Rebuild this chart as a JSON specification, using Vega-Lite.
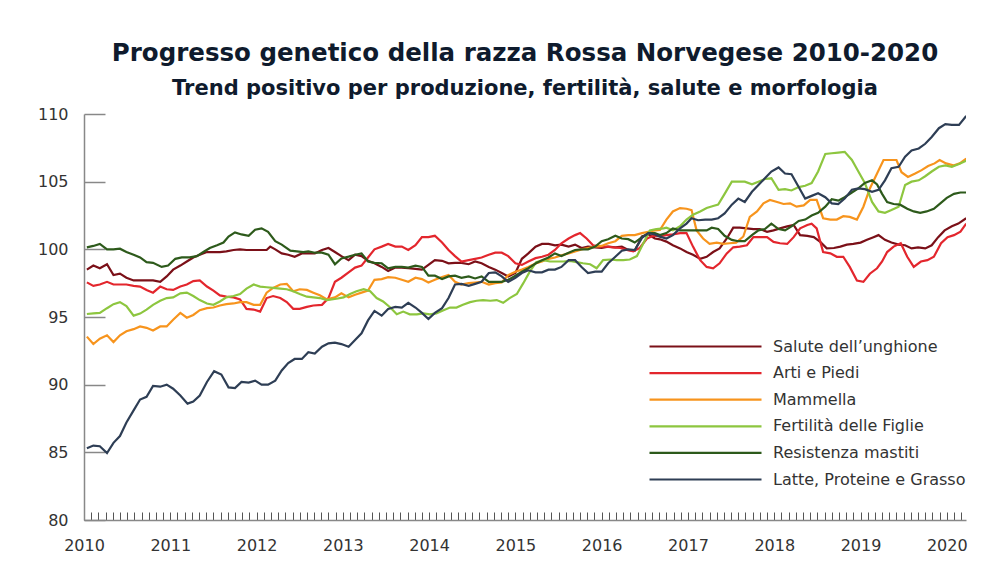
{
"$schema":"https://vega.github.io/schema/vega-lite/v6.json",
"width":882,"height":406,
"autosize":{"type":"none"},
"padding":{"left":84,"top":114,"right":38,"bottom":66},
"background":"white",
"config":{"view":{"stroke":null},"font":"DejaVu Sans"},
"title":{"text":"Progresso genetico della razza Rossa Norvegese 2010-2020","subtitle":"Trend positivo per produzione, fertilità, salute e morfologia","anchor":"middle","frame":"group","font":"DejaVu Sans","fontSize":24.5,"fontWeight":"bold","color":"#0f1b2d","subtitleFont":"DejaVu Sans","subtitleFontSize":21,"subtitleFontWeight":"bold","subtitleColor":"#0f1b2d","subtitlePadding":12,"offset":6},
"data":{"values":[
{"s":"A","m":0.4,"v":98.5},{"s":"A","m":1.3,"v":98.8},{"s":"A","m":2.2,"v":98.6},{"s":"A","m":3.2,"v":98.9},{"s":"A","m":4.1,"v":98.1},{"s":"A","m":5.0,"v":98.2},{"s":"A","m":5.9,"v":97.9},{"s":"A","m":6.9,"v":97.7},{"s":"A","m":7.8,"v":97.7},{"s":"A","m":8.7,"v":97.7},{"s":"A","m":9.6,"v":97.7},{"s":"A","m":10.6,"v":97.6},{"s":"A","m":11.5,"v":98.0},{"s":"A","m":12.4,"v":98.5},{"s":"A","m":13.4,"v":98.8},{"s":"A","m":14.3,"v":99.1},{"s":"A","m":15.2,"v":99.4},{"s":"A","m":16.1,"v":99.6},{"s":"A","m":17.1,"v":99.8},{"s":"A","m":18.0,"v":99.8},{"s":"A","m":18.9,"v":99.8},{"s":"A","m":19.8,"v":99.85},{"s":"A","m":20.8,"v":99.95},{"s":"A","m":21.7,"v":100.0},{"s":"A","m":22.6,"v":99.95},{"s":"A","m":23.6,"v":99.95},{"s":"A","m":24.5,"v":99.95},{"s":"A","m":25.4,"v":99.95},{"s":"A","m":25.9,"v":100.2},{"s":"A","m":26.6,"v":100.0},{"s":"A","m":27.5,"v":99.7},{"s":"A","m":28.4,"v":99.6},{"s":"A","m":29.3,"v":99.45},{"s":"A","m":30.3,"v":99.7},{"s":"A","m":31.2,"v":99.7},{"s":"A","m":32.1,"v":99.7},{"s":"A","m":33.1,"v":99.95},{"s":"A","m":34.0,"v":100.1},{"s":"A","m":34.9,"v":99.8},{"s":"A","m":35.8,"v":99.5},{"s":"A","m":36.8,"v":99.2},{"s":"A","m":37.7,"v":99.6},{"s":"A","m":38.6,"v":99.5},{"s":"A","m":39.5,"v":99.15},{"s":"A","m":40.4,"v":98.97},{"s":"A","m":41.4,"v":98.7},{"s":"A","m":42.3,"v":98.4},{"s":"A","m":43.3,"v":98.65},{"s":"A","m":44.2,"v":98.65},{"s":"A","m":45.1,"v":98.6},{"s":"A","m":46.1,"v":98.55},{"s":"A","m":47.0,"v":98.5},{"s":"A","m":47.9,"v":98.85},{"s":"A","m":48.8,"v":99.2},{"s":"A","m":49.8,"v":99.15},{"s":"A","m":50.7,"v":98.97},{"s":"A","m":51.6,"v":99.0},{"s":"A","m":52.5,"v":99.0},{"s":"A","m":53.5,"v":98.9},{"s":"A","m":54.4,"v":99.1},{"s":"A","m":55.3,"v":98.97},{"s":"A","m":56.3,"v":98.7},{"s":"A","m":57.2,"v":98.5},{"s":"A","m":58.1,"v":98.25},{"s":"A","m":59.0,"v":98.0},{"s":"A","m":60.0,"v":98.25},{"s":"A","m":60.9,"v":99.3},{"s":"A","m":61.8,"v":99.7},{"s":"A","m":62.8,"v":100.2},{"s":"A","m":63.7,"v":100.4},{"s":"A","m":64.6,"v":100.4},{"s":"A","m":65.5,"v":100.3},{"s":"A","m":66.4,"v":100.35},{"s":"A","m":67.4,"v":100.2},{"s":"A","m":68.3,"v":100.35},{"s":"A","m":69.2,"v":100.1},{"s":"A","m":70.1,"v":100.2},{"s":"A","m":71.1,"v":100.15},{"s":"A","m":72.0,"v":100.1},{"s":"A","m":72.9,"v":100.2},{"s":"A","m":73.9,"v":100.15},{"s":"A","m":74.8,"v":100.2},{"s":"A","m":75.7,"v":99.95},{"s":"A","m":76.6,"v":99.9},{"s":"A","m":77.6,"v":100.95},{"s":"A","m":78.5,"v":101.1},{"s":"A","m":79.4,"v":100.8},{"s":"A","m":80.1,"v":100.74},{"s":"A","m":81.0,"v":100.57},{"s":"A","m":81.9,"v":100.3},{"s":"A","m":82.9,"v":100.07},{"s":"A","m":83.8,"v":99.8},{"s":"A","m":84.7,"v":99.6},{"s":"A","m":85.7,"v":99.3},{"s":"A","m":86.6,"v":99.45},{"s":"A","m":87.5,"v":99.8},{"s":"A","m":88.4,"v":100.07},{"s":"A","m":89.4,"v":100.8},{"s":"A","m":90.3,"v":101.6},{"s":"A","m":91.2,"v":101.6},{"s":"A","m":92.2,"v":101.55},{"s":"A","m":93.1,"v":101.5},{"s":"A","m":94.0,"v":101.5},{"s":"A","m":95.0,"v":101.3},{"s":"A","m":95.9,"v":101.4},{"s":"A","m":96.8,"v":101.55},{"s":"A","m":97.8,"v":101.7},{"s":"A","m":98.7,"v":101.8},{"s":"A","m":99.6,"v":101.05},{"s":"A","m":100.6,"v":101.0},{"s":"A","m":101.5,"v":100.9},{"s":"A","m":102.4,"v":100.55},{"s":"A","m":103.3,"v":100.07},{"s":"A","m":104.3,"v":100.1},{"s":"A","m":105.2,"v":100.2},{"s":"A","m":106.1,"v":100.35},{"s":"A","m":107.0,"v":100.4},{"s":"A","m":108.0,"v":100.5},{"s":"A","m":108.9,"v":100.7},{"s":"A","m":109.8,"v":100.9},{"s":"A","m":110.5,"v":101.05},{"s":"A","m":111.4,"v":100.7},{"s":"A","m":112.3,"v":100.5},{"s":"A","m":113.3,"v":100.35},{"s":"A","m":114.2,"v":100.3},{"s":"A","m":115.1,"v":100.07},{"s":"A","m":116.0,"v":100.15},{"s":"A","m":117.0,"v":100.07},{"s":"A","m":117.9,"v":100.3},{"s":"A","m":118.8,"v":100.9},{"s":"A","m":119.7,"v":101.4},{"s":"A","m":120.7,"v":101.7},{"s":"A","m":121.6,"v":101.9},{"s":"A","m":122.7,"v":102.3},
{"s":"B","m":0.4,"v":97.56},{"s":"B","m":1.3,"v":97.3},{"s":"B","m":2.2,"v":97.4},{"s":"B","m":3.2,"v":97.6},{"s":"B","m":4.1,"v":97.4},{"s":"B","m":5.0,"v":97.4},{"s":"B","m":5.9,"v":97.4},{"s":"B","m":6.9,"v":97.3},{"s":"B","m":7.8,"v":97.25},{"s":"B","m":8.7,"v":97.0},{"s":"B","m":9.6,"v":96.8},{"s":"B","m":10.6,"v":97.25},{"s":"B","m":11.5,"v":97.05},{"s":"B","m":12.4,"v":97.0},{"s":"B","m":13.4,"v":97.25},{"s":"B","m":14.3,"v":97.4},{"s":"B","m":15.2,"v":97.65},{"s":"B","m":16.1,"v":97.7},{"s":"B","m":17.1,"v":97.25},{"s":"B","m":18.0,"v":96.95},{"s":"B","m":18.9,"v":96.6},{"s":"B","m":19.8,"v":96.5},{"s":"B","m":20.8,"v":96.45},{"s":"B","m":21.7,"v":96.3},{"s":"B","m":22.6,"v":95.6},{"s":"B","m":23.6,"v":95.55},{"s":"B","m":24.5,"v":95.4},{"s":"B","m":25.4,"v":96.4},{"s":"B","m":26.3,"v":96.55},{"s":"B","m":27.3,"v":96.4},{"s":"B","m":28.2,"v":96.1},{"s":"B","m":29.1,"v":95.6},{"s":"B","m":30.0,"v":95.6},{"s":"B","m":31.0,"v":95.75},{"s":"B","m":31.9,"v":95.85},{"s":"B","m":33.1,"v":95.9},{"s":"B","m":34.0,"v":96.4},{"s":"B","m":34.9,"v":97.6},{"s":"B","m":35.8,"v":97.9},{"s":"B","m":36.8,"v":98.3},{"s":"B","m":37.7,"v":98.65},{"s":"B","m":38.6,"v":98.8},{"s":"B","m":39.5,"v":99.4},{"s":"B","m":40.4,"v":100.0},{"s":"B","m":41.4,"v":100.2},{"s":"B","m":42.3,"v":100.4},{"s":"B","m":43.3,"v":100.2},{"s":"B","m":44.2,"v":100.2},{"s":"B","m":45.1,"v":99.95},{"s":"B","m":46.1,"v":100.3},{"s":"B","m":47.0,"v":100.9},{"s":"B","m":47.9,"v":100.9},{"s":"B","m":48.8,"v":101.0},{"s":"B","m":49.8,"v":100.5},{"s":"B","m":50.7,"v":99.95},{"s":"B","m":51.6,"v":99.5},{"s":"B","m":52.5,"v":99.1},{"s":"B","m":53.5,"v":99.2},{"s":"B","m":54.4,"v":99.3},{"s":"B","m":55.3,"v":99.4},{"s":"B","m":56.3,"v":99.6},{"s":"B","m":57.2,"v":99.75},{"s":"B","m":58.1,"v":99.75},{"s":"B","m":59.0,"v":99.5},{"s":"B","m":60.0,"v":98.97},{"s":"B","m":60.9,"v":98.85},{"s":"B","m":61.8,"v":99.1},{"s":"B","m":62.8,"v":99.35},{"s":"B","m":63.7,"v":99.45},{"s":"B","m":64.6,"v":99.6},{"s":"B","m":65.5,"v":99.95},{"s":"B","m":66.4,"v":100.45},{"s":"B","m":67.4,"v":100.8},{"s":"B","m":68.3,"v":101.05},{"s":"B","m":69.0,"v":101.2},{"s":"B","m":69.9,"v":100.8},{"s":"B","m":70.8,"v":100.3},{"s":"B","m":71.8,"v":100.2},{"s":"B","m":72.7,"v":100.2},{"s":"B","m":73.6,"v":100.15},{"s":"B","m":74.6,"v":100.1},{"s":"B","m":75.5,"v":99.95},{"s":"B","m":76.4,"v":99.85},{"s":"B","m":77.3,"v":100.1},{"s":"B","m":78.3,"v":100.8},{"s":"B","m":79.2,"v":101.0},{"s":"B","m":80.1,"v":100.98},{"s":"B","m":81.0,"v":101.05},{"s":"B","m":81.9,"v":101.1},{"s":"B","m":82.9,"v":101.2},{"s":"B","m":83.8,"v":101.2},{"s":"B","m":84.7,"v":100.2},{"s":"B","m":85.7,"v":99.2},{"s":"B","m":86.6,"v":98.7},{"s":"B","m":87.5,"v":98.6},{"s":"B","m":88.4,"v":98.97},{"s":"B","m":89.4,"v":99.7},{"s":"B","m":90.3,"v":100.15},{"s":"B","m":91.2,"v":100.2},{"s":"B","m":92.2,"v":100.3},{"s":"B","m":93.1,"v":100.9},{"s":"B","m":94.0,"v":100.9},{"s":"B","m":95.0,"v":100.9},{"s":"B","m":95.9,"v":100.55},{"s":"B","m":96.8,"v":100.45},{"s":"B","m":97.8,"v":100.4},{"s":"B","m":98.7,"v":100.9},{"s":"B","m":99.6,"v":101.55},{"s":"B","m":100.6,"v":101.8},{"s":"B","m":101.2,"v":101.9},{"s":"B","m":101.9,"v":101.55},{"s":"B","m":102.8,"v":99.8},{"s":"B","m":103.8,"v":99.7},{"s":"B","m":104.7,"v":99.45},{"s":"B","m":105.6,"v":99.45},{"s":"B","m":106.5,"v":98.7},{"s":"B","m":107.5,"v":97.7},{"s":"B","m":108.4,"v":97.6},{"s":"B","m":109.3,"v":98.2},{"s":"B","m":110.3,"v":98.6},{"s":"B","m":111.0,"v":99.1},{"s":"B","m":111.7,"v":99.8},{"s":"B","m":112.6,"v":100.2},{"s":"B","m":113.6,"v":100.45},{"s":"B","m":114.5,"v":99.45},{"s":"B","m":115.4,"v":98.7},{"s":"B","m":116.4,"v":99.1},{"s":"B","m":117.3,"v":99.2},{"s":"B","m":118.2,"v":99.45},{"s":"B","m":119.2,"v":100.45},{"s":"B","m":120.1,"v":100.9},{"s":"B","m":121.0,"v":101.05},{"s":"B","m":121.9,"v":101.3},{"s":"B","m":122.7,"v":101.9},
{"s":"C","m":0.4,"v":93.55},{"s":"C","m":1.3,"v":93.0},{"s":"C","m":2.2,"v":93.4},{"s":"C","m":3.2,"v":93.65},{"s":"C","m":4.1,"v":93.15},{"s":"C","m":5.0,"v":93.65},{"s":"C","m":5.9,"v":93.95},{"s":"C","m":6.9,"v":94.1},{"s":"C","m":7.8,"v":94.3},{"s":"C","m":8.7,"v":94.2},{"s":"C","m":9.6,"v":94.0},{"s":"C","m":10.6,"v":94.3},{"s":"C","m":11.5,"v":94.3},{"s":"C","m":12.4,"v":94.8},{"s":"C","m":13.4,"v":95.3},{"s":"C","m":14.3,"v":94.95},{"s":"C","m":15.2,"v":95.15},{"s":"C","m":16.1,"v":95.5},{"s":"C","m":17.1,"v":95.65},{"s":"C","m":18.0,"v":95.7},{"s":"C","m":18.9,"v":95.85},{"s":"C","m":19.8,"v":95.95},{"s":"C","m":20.8,"v":96.0},{"s":"C","m":21.7,"v":96.1},{"s":"C","m":22.6,"v":96.1},{"s":"C","m":23.6,"v":95.9},{"s":"C","m":24.5,"v":95.9},{"s":"C","m":25.4,"v":96.8},{"s":"C","m":26.3,"v":97.15},{"s":"C","m":27.3,"v":97.4},{"s":"C","m":28.2,"v":97.45},{"s":"C","m":29.1,"v":96.9},{"s":"C","m":30.0,"v":97.05},{"s":"C","m":31.0,"v":97.0},{"s":"C","m":31.9,"v":96.8},{"s":"C","m":32.8,"v":96.6},{"s":"C","m":33.8,"v":96.3},{"s":"C","m":34.9,"v":96.45},{"s":"C","m":35.8,"v":96.75},{"s":"C","m":36.8,"v":96.45},{"s":"C","m":37.7,"v":96.65},{"s":"C","m":38.6,"v":96.8},{"s":"C","m":39.5,"v":96.95},{"s":"C","m":40.4,"v":97.75},{"s":"C","m":41.4,"v":97.8},{"s":"C","m":42.3,"v":97.95},{"s":"C","m":43.3,"v":97.9},{"s":"C","m":44.2,"v":97.75},{"s":"C","m":45.1,"v":97.6},{"s":"C","m":46.1,"v":97.9},{"s":"C","m":47.0,"v":97.8},{"s":"C","m":47.9,"v":97.55},{"s":"C","m":48.8,"v":97.75},{"s":"C","m":49.8,"v":97.95},{"s":"C","m":50.7,"v":98.1},{"s":"C","m":51.6,"v":97.6},{"s":"C","m":52.5,"v":97.4},{"s":"C","m":53.5,"v":97.5},{"s":"C","m":54.4,"v":97.55},{"s":"C","m":55.3,"v":97.6},{"s":"C","m":56.3,"v":97.4},{"s":"C","m":57.2,"v":97.5},{"s":"C","m":58.1,"v":97.55},{"s":"C","m":59.0,"v":98.1},{"s":"C","m":60.0,"v":98.35},{"s":"C","m":60.9,"v":98.5},{"s":"C","m":61.8,"v":98.7},{"s":"C","m":62.8,"v":98.95},{"s":"C","m":63.7,"v":99.1},{"s":"C","m":64.6,"v":99.3},{"s":"C","m":65.5,"v":99.4},{"s":"C","m":66.4,"v":99.55},{"s":"C","m":67.4,"v":99.7},{"s":"C","m":68.3,"v":99.85},{"s":"C","m":69.2,"v":100.0},{"s":"C","m":70.1,"v":100.1},{"s":"C","m":71.1,"v":100.2},{"s":"C","m":72.0,"v":100.25},{"s":"C","m":72.9,"v":100.45},{"s":"C","m":73.9,"v":100.6},{"s":"C","m":74.8,"v":101.0},{"s":"C","m":75.7,"v":101.05},{"s":"C","m":76.6,"v":101.05},{"s":"C","m":77.6,"v":101.2},{"s":"C","m":78.5,"v":101.3},{"s":"C","m":79.4,"v":101.4},{"s":"C","m":80.1,"v":101.43},{"s":"C","m":81.0,"v":102.2},{"s":"C","m":81.9,"v":102.8},{"s":"C","m":82.9,"v":103.05},{"s":"C","m":83.8,"v":103.0},{"s":"C","m":84.5,"v":102.9},{"s":"C","m":85.2,"v":101.4},{"s":"C","m":86.1,"v":100.8},{"s":"C","m":87.0,"v":100.4},{"s":"C","m":88.0,"v":100.5},{"s":"C","m":88.9,"v":100.4},{"s":"C","m":89.8,"v":100.45},{"s":"C","m":90.7,"v":100.5},{"s":"C","m":91.7,"v":100.95},{"s":"C","m":92.6,"v":102.4},{"s":"C","m":93.6,"v":102.8},{"s":"C","m":94.5,"v":103.4},{"s":"C","m":95.4,"v":103.65},{"s":"C","m":96.4,"v":103.5},{"s":"C","m":97.3,"v":103.35},{"s":"C","m":98.2,"v":103.4},{"s":"C","m":99.1,"v":103.15},{"s":"C","m":100.1,"v":103.25},{"s":"C","m":101.0,"v":103.65},{"s":"C","m":101.9,"v":103.65},{"s":"C","m":102.8,"v":102.3},{"s":"C","m":103.8,"v":102.2},{"s":"C","m":104.7,"v":102.2},{"s":"C","m":105.6,"v":102.45},{"s":"C","m":106.5,"v":102.4},{"s":"C","m":107.5,"v":102.2},{"s":"C","m":108.4,"v":103.15},{"s":"C","m":109.3,"v":104.5},{"s":"C","m":110.3,"v":105.6},{"s":"C","m":111.2,"v":106.6},{"s":"C","m":112.1,"v":106.6},{"s":"C","m":113.0,"v":106.6},{"s":"C","m":113.7,"v":105.7},{"s":"C","m":114.6,"v":105.35},{"s":"C","m":115.6,"v":105.6},{"s":"C","m":116.5,"v":105.85},{"s":"C","m":117.4,"v":106.15},{"s":"C","m":118.3,"v":106.35},{"s":"C","m":119.0,"v":106.6},{"s":"C","m":119.9,"v":106.35},{"s":"C","m":120.9,"v":106.2},{"s":"C","m":121.8,"v":106.35},{"s":"C","m":122.7,"v":106.7},
{"s":"D","m":0.4,"v":95.22},{"s":"D","m":1.3,"v":95.27},{"s":"D","m":2.2,"v":95.3},{"s":"D","m":3.2,"v":95.65},{"s":"D","m":4.1,"v":95.95},{"s":"D","m":5.0,"v":96.1},{"s":"D","m":5.9,"v":95.8},{"s":"D","m":6.9,"v":95.1},{"s":"D","m":7.8,"v":95.25},{"s":"D","m":8.7,"v":95.55},{"s":"D","m":9.6,"v":95.9},{"s":"D","m":10.6,"v":96.2},{"s":"D","m":11.5,"v":96.4},{"s":"D","m":12.4,"v":96.45},{"s":"D","m":13.4,"v":96.75},{"s":"D","m":14.3,"v":96.8},{"s":"D","m":15.2,"v":96.55},{"s":"D","m":16.1,"v":96.25},{"s":"D","m":17.1,"v":96.0},{"s":"D","m":18.0,"v":95.9},{"s":"D","m":18.9,"v":96.15},{"s":"D","m":19.8,"v":96.45},{"s":"D","m":20.8,"v":96.55},{"s":"D","m":21.7,"v":96.7},{"s":"D","m":22.6,"v":97.1},{"s":"D","m":23.6,"v":97.4},{"s":"D","m":24.5,"v":97.25},{"s":"D","m":25.4,"v":97.2},{"s":"D","m":26.3,"v":97.15},{"s":"D","m":27.3,"v":97.1},{"s":"D","m":28.2,"v":97.05},{"s":"D","m":29.1,"v":96.9},{"s":"D","m":30.0,"v":96.7},{"s":"D","m":31.0,"v":96.5},{"s":"D","m":31.9,"v":96.45},{"s":"D","m":32.8,"v":96.4},{"s":"D","m":33.8,"v":96.25},{"s":"D","m":35.1,"v":96.35},{"s":"D","m":36.1,"v":96.45},{"s":"D","m":37.0,"v":96.7},{"s":"D","m":37.9,"v":96.9},{"s":"D","m":38.9,"v":97.05},{"s":"D","m":39.8,"v":96.9},{"s":"D","m":40.7,"v":96.4},{"s":"D","m":41.6,"v":96.15},{"s":"D","m":42.6,"v":95.7},{"s":"D","m":43.5,"v":95.2},{"s":"D","m":44.4,"v":95.4},{"s":"D","m":45.3,"v":95.2},{"s":"D","m":46.3,"v":95.2},{"s":"D","m":47.2,"v":95.27},{"s":"D","m":48.1,"v":95.2},{"s":"D","m":49.0,"v":95.27},{"s":"D","m":50.0,"v":95.5},{"s":"D","m":50.9,"v":95.7},{"s":"D","m":51.8,"v":95.7},{"s":"D","m":52.7,"v":95.9},{"s":"D","m":53.7,"v":96.1},{"s":"D","m":54.6,"v":96.2},{"s":"D","m":55.5,"v":96.25},{"s":"D","m":56.5,"v":96.2},{"s":"D","m":57.4,"v":96.25},{"s":"D","m":58.3,"v":96.05},{"s":"D","m":59.2,"v":96.4},{"s":"D","m":60.2,"v":96.7},{"s":"D","m":61.1,"v":97.5},{"s":"D","m":62.0,"v":98.35},{"s":"D","m":62.9,"v":99.05},{"s":"D","m":63.9,"v":99.2},{"s":"D","m":64.8,"v":99.1},{"s":"D","m":65.7,"v":99.1},{"s":"D","m":66.7,"v":99.1},{"s":"D","m":67.6,"v":99.15},{"s":"D","m":68.5,"v":99.05},{"s":"D","m":69.4,"v":98.97},{"s":"D","m":70.4,"v":98.9},{"s":"D","m":71.3,"v":98.6},{"s":"D","m":72.2,"v":99.2},{"s":"D","m":73.2,"v":99.25},{"s":"D","m":74.1,"v":99.2},{"s":"D","m":75.0,"v":99.2},{"s":"D","m":75.9,"v":99.25},{"s":"D","m":76.9,"v":99.5},{"s":"D","m":77.8,"v":100.45},{"s":"D","m":78.7,"v":101.4},{"s":"D","m":79.6,"v":101.5},{"s":"D","m":80.6,"v":101.55},{"s":"D","m":81.0,"v":101.6},{"s":"D","m":81.9,"v":101.4},{"s":"D","m":82.9,"v":101.7},{"s":"D","m":83.8,"v":102.2},{"s":"D","m":84.7,"v":102.55},{"s":"D","m":85.7,"v":102.8},{"s":"D","m":86.6,"v":103.05},{"s":"D","m":87.5,"v":103.2},{"s":"D","m":88.2,"v":103.3},{"s":"D","m":89.1,"v":104.1},{"s":"D","m":90.1,"v":105.0},{"s":"D","m":91.0,"v":105.0},{"s":"D","m":91.9,"v":105.0},{"s":"D","m":92.9,"v":104.8},{"s":"D","m":93.8,"v":105.0},{"s":"D","m":94.7,"v":105.2},{"s":"D","m":95.6,"v":105.25},{"s":"D","m":96.6,"v":104.4},{"s":"D","m":97.5,"v":104.45},{"s":"D","m":98.4,"v":104.35},{"s":"D","m":99.4,"v":104.6},{"s":"D","m":100.3,"v":104.7},{"s":"D","m":101.2,"v":104.9},{"s":"D","m":102.1,"v":105.75},{"s":"D","m":103.1,"v":107.05},{"s":"D","m":104.0,"v":107.1},{"s":"D","m":104.9,"v":107.15},{"s":"D","m":105.8,"v":107.2},{"s":"D","m":106.8,"v":106.6},{"s":"D","m":107.7,"v":105.75},{"s":"D","m":108.6,"v":104.9},{"s":"D","m":109.6,"v":103.5},{"s":"D","m":110.5,"v":102.8},{"s":"D","m":111.4,"v":102.7},{"s":"D","m":112.3,"v":102.9},{"s":"D","m":113.3,"v":103.15},{"s":"D","m":114.2,"v":104.75},{"s":"D","m":115.1,"v":105.0},{"s":"D","m":116.1,"v":105.1},{"s":"D","m":117.0,"v":105.4},{"s":"D","m":117.9,"v":105.75},{"s":"D","m":118.9,"v":106.1},{"s":"D","m":119.8,"v":106.2},{"s":"D","m":120.7,"v":106.1},{"s":"D","m":121.7,"v":106.3},{"s":"D","m":122.7,"v":106.55},
{"s":"E","m":0.4,"v":100.15},{"s":"E","m":1.3,"v":100.25},{"s":"E","m":2.2,"v":100.4},{"s":"E","m":3.2,"v":100.0},{"s":"E","m":4.1,"v":100.0},{"s":"E","m":5.0,"v":100.05},{"s":"E","m":5.9,"v":99.8},{"s":"E","m":6.9,"v":99.6},{"s":"E","m":7.8,"v":99.4},{"s":"E","m":8.7,"v":99.05},{"s":"E","m":9.6,"v":99.0},{"s":"E","m":10.8,"v":98.7},{"s":"E","m":11.7,"v":98.8},{"s":"E","m":12.7,"v":99.3},{"s":"E","m":13.6,"v":99.4},{"s":"E","m":14.7,"v":99.4},{"s":"E","m":15.7,"v":99.5},{"s":"E","m":16.6,"v":99.8},{"s":"E","m":17.5,"v":100.1},{"s":"E","m":18.5,"v":100.3},{"s":"E","m":19.4,"v":100.5},{"s":"E","m":20.1,"v":100.95},{"s":"E","m":21.0,"v":101.25},{"s":"E","m":21.9,"v":101.1},{"s":"E","m":22.9,"v":101.0},{"s":"E","m":23.8,"v":101.45},{"s":"E","m":24.7,"v":101.55},{"s":"E","m":25.6,"v":101.3},{"s":"E","m":26.6,"v":100.6},{"s":"E","m":27.5,"v":100.35},{"s":"E","m":28.7,"v":99.9},{"s":"E","m":29.6,"v":99.85},{"s":"E","m":30.5,"v":99.8},{"s":"E","m":31.2,"v":99.85},{"s":"E","m":32.1,"v":99.75},{"s":"E","m":33.1,"v":99.75},{"s":"E","m":34.0,"v":99.6},{"s":"E","m":34.9,"v":98.9},{"s":"E","m":35.8,"v":99.33},{"s":"E","m":36.8,"v":99.46},{"s":"E","m":37.7,"v":99.6},{"s":"E","m":38.6,"v":99.7},{"s":"E","m":39.5,"v":99.1},{"s":"E","m":40.4,"v":99.0},{"s":"E","m":41.4,"v":98.97},{"s":"E","m":42.3,"v":98.6},{"s":"E","m":43.3,"v":98.7},{"s":"E","m":44.2,"v":98.7},{"s":"E","m":45.1,"v":98.65},{"s":"E","m":46.1,"v":98.8},{"s":"E","m":47.0,"v":98.7},{"s":"E","m":47.9,"v":98.05},{"s":"E","m":48.8,"v":98.05},{"s":"E","m":49.8,"v":97.8},{"s":"E","m":50.7,"v":98.0},{"s":"E","m":51.6,"v":98.05},{"s":"E","m":52.5,"v":97.9},{"s":"E","m":53.5,"v":98.0},{"s":"E","m":54.4,"v":97.85},{"s":"E","m":55.3,"v":98.0},{"s":"E","m":56.3,"v":97.6},{"s":"E","m":57.2,"v":97.6},{"s":"E","m":58.1,"v":97.6},{"s":"E","m":59.0,"v":97.75},{"s":"E","m":60.0,"v":98.05},{"s":"E","m":60.9,"v":98.35},{"s":"E","m":61.8,"v":98.6},{"s":"E","m":62.8,"v":98.95},{"s":"E","m":63.7,"v":99.2},{"s":"E","m":64.6,"v":99.4},{"s":"E","m":65.5,"v":99.7},{"s":"E","m":66.4,"v":99.5},{"s":"E","m":67.4,"v":99.75},{"s":"E","m":68.3,"v":99.95},{"s":"E","m":69.2,"v":100.0},{"s":"E","m":70.1,"v":100.0},{"s":"E","m":71.1,"v":100.2},{"s":"E","m":72.0,"v":100.6},{"s":"E","m":72.9,"v":100.75},{"s":"E","m":73.9,"v":101.0},{"s":"E","m":74.8,"v":100.8},{"s":"E","m":75.7,"v":100.75},{"s":"E","m":76.6,"v":100.5},{"s":"E","m":77.6,"v":100.9},{"s":"E","m":78.5,"v":101.2},{"s":"E","m":79.4,"v":101.2},{"s":"E","m":80.1,"v":101.06},{"s":"E","m":81.0,"v":101.2},{"s":"E","m":81.9,"v":101.55},{"s":"E","m":82.9,"v":101.4},{"s":"E","m":83.8,"v":101.4},{"s":"E","m":84.7,"v":101.4},{"s":"E","m":85.7,"v":101.4},{"s":"E","m":86.6,"v":101.4},{"s":"E","m":87.3,"v":101.6},{"s":"E","m":88.2,"v":101.5},{"s":"E","m":89.1,"v":101.0},{"s":"E","m":90.1,"v":100.7},{"s":"E","m":91.0,"v":100.6},{"s":"E","m":91.9,"v":100.6},{"s":"E","m":92.9,"v":101.05},{"s":"E","m":93.8,"v":101.4},{"s":"E","m":94.7,"v":101.5},{"s":"E","m":95.6,"v":101.9},{"s":"E","m":96.6,"v":101.5},{"s":"E","m":97.5,"v":101.4},{"s":"E","m":98.4,"v":101.7},{"s":"E","m":99.4,"v":102.1},{"s":"E","m":100.3,"v":102.2},{"s":"E","m":101.2,"v":102.5},{"s":"E","m":102.1,"v":102.7},{"s":"E","m":103.1,"v":103.15},{"s":"E","m":104.0,"v":103.7},{"s":"E","m":104.9,"v":103.6},{"s":"E","m":105.8,"v":103.85},{"s":"E","m":106.8,"v":104.2},{"s":"E","m":107.7,"v":104.5},{"s":"E","m":108.6,"v":104.9},{"s":"E","m":109.6,"v":105.1},{"s":"E","m":110.3,"v":104.8},{"s":"E","m":111.0,"v":104.1},{"s":"E","m":111.7,"v":103.5},{"s":"E","m":112.6,"v":103.35},{"s":"E","m":113.5,"v":103.3},{"s":"E","m":114.5,"v":103.0},{"s":"E","m":115.4,"v":102.8},{"s":"E","m":116.3,"v":102.7},{"s":"E","m":117.2,"v":102.8},{"s":"E","m":118.2,"v":103.0},{"s":"E","m":119.1,"v":103.4},{"s":"E","m":120.0,"v":103.8},{"s":"E","m":121.0,"v":104.1},{"s":"E","m":121.9,"v":104.2},{"s":"E","m":122.7,"v":104.2},
{"s":"F","m":0.4,"v":85.3},{"s":"F","m":1.3,"v":85.5},{"s":"F","m":2.2,"v":85.45},{"s":"F","m":3.2,"v":84.95},{"s":"F","m":4.1,"v":85.7},{"s":"F","m":5.0,"v":86.2},{"s":"F","m":5.9,"v":87.2},{"s":"F","m":6.9,"v":88.1},{"s":"F","m":7.8,"v":88.9},{"s":"F","m":8.7,"v":89.1},{"s":"F","m":9.6,"v":89.9},{"s":"F","m":10.6,"v":89.85},{"s":"F","m":11.5,"v":90.0},{"s":"F","m":12.4,"v":89.7},{"s":"F","m":13.4,"v":89.2},{"s":"F","m":14.4,"v":88.6},{"s":"F","m":15.2,"v":88.75},{"s":"F","m":16.1,"v":89.2},{"s":"F","m":17.1,"v":90.2},{"s":"F","m":18.1,"v":91.0},{"s":"F","m":19.1,"v":90.75},{"s":"F","m":20.1,"v":89.8},{"s":"F","m":21.0,"v":89.75},{"s":"F","m":21.9,"v":90.2},{"s":"F","m":22.9,"v":90.15},{"s":"F","m":23.8,"v":90.3},{"s":"F","m":24.7,"v":90.0},{"s":"F","m":25.6,"v":90.0},{"s":"F","m":26.6,"v":90.3},{"s":"F","m":27.5,"v":91.05},{"s":"F","m":28.4,"v":91.6},{"s":"F","m":29.3,"v":91.9},{"s":"F","m":30.3,"v":91.9},{"s":"F","m":31.2,"v":92.4},{"s":"F","m":32.1,"v":92.3},{"s":"F","m":33.1,"v":92.8},{"s":"F","m":34.0,"v":93.05},{"s":"F","m":34.9,"v":93.1},{"s":"F","m":35.8,"v":93.0},{"s":"F","m":36.8,"v":92.8},{"s":"F","m":37.7,"v":93.3},{"s":"F","m":38.6,"v":93.8},{"s":"F","m":39.5,"v":94.75},{"s":"F","m":40.4,"v":95.45},{"s":"F","m":41.4,"v":95.1},{"s":"F","m":42.3,"v":95.6},{"s":"F","m":43.3,"v":95.75},{"s":"F","m":44.2,"v":95.7},{"s":"F","m":45.1,"v":96.05},{"s":"F","m":46.1,"v":95.7},{"s":"F","m":47.0,"v":95.3},{"s":"F","m":47.9,"v":94.85},{"s":"F","m":48.8,"v":95.3},{"s":"F","m":49.8,"v":95.65},{"s":"F","m":50.7,"v":96.4},{"s":"F","m":51.6,"v":97.4},{"s":"F","m":52.5,"v":97.45},{"s":"F","m":53.5,"v":97.3},{"s":"F","m":54.4,"v":97.45},{"s":"F","m":55.3,"v":97.6},{"s":"F","m":56.3,"v":98.25},{"s":"F","m":57.2,"v":98.3},{"s":"F","m":58.1,"v":98.0},{"s":"F","m":59.0,"v":97.6},{"s":"F","m":60.0,"v":97.9},{"s":"F","m":60.9,"v":98.25},{"s":"F","m":61.8,"v":98.45},{"s":"F","m":62.8,"v":98.3},{"s":"F","m":63.7,"v":98.3},{"s":"F","m":64.6,"v":98.5},{"s":"F","m":65.5,"v":98.5},{"s":"F","m":66.4,"v":98.7},{"s":"F","m":67.4,"v":99.2},{"s":"F","m":68.3,"v":99.2},{"s":"F","m":69.2,"v":98.7},{"s":"F","m":70.1,"v":98.25},{"s":"F","m":71.1,"v":98.35},{"s":"F","m":72.0,"v":98.35},{"s":"F","m":72.9,"v":98.97},{"s":"F","m":73.9,"v":99.45},{"s":"F","m":74.8,"v":99.9},{"s":"F","m":75.7,"v":100.0},{"s":"F","m":76.6,"v":99.95},{"s":"F","m":77.6,"v":100.85},{"s":"F","m":78.5,"v":101.2},{"s":"F","m":79.4,"v":101.1},{"s":"F","m":80.1,"v":100.94},{"s":"F","m":81.0,"v":100.8},{"s":"F","m":81.9,"v":101.05},{"s":"F","m":82.9,"v":101.55},{"s":"F","m":83.8,"v":101.9},{"s":"F","m":84.5,"v":102.3},{"s":"F","m":85.4,"v":102.15},{"s":"F","m":86.4,"v":102.2},{"s":"F","m":87.3,"v":102.2},{"s":"F","m":88.2,"v":102.3},{"s":"F","m":89.1,"v":102.65},{"s":"F","m":90.1,"v":103.3},{"s":"F","m":91.0,"v":103.75},{"s":"F","m":91.9,"v":103.5},{"s":"F","m":92.9,"v":104.25},{"s":"F","m":93.8,"v":104.75},{"s":"F","m":94.7,"v":105.25},{"s":"F","m":95.6,"v":105.75},{"s":"F","m":96.6,"v":106.05},{"s":"F","m":97.5,"v":105.6},{"s":"F","m":98.4,"v":105.55},{"s":"F","m":99.4,"v":104.6},{"s":"F","m":100.3,"v":103.75},{"s":"F","m":101.2,"v":103.95},{"s":"F","m":102.1,"v":104.15},{"s":"F","m":103.1,"v":103.85},{"s":"F","m":104.0,"v":103.4},{"s":"F","m":104.9,"v":103.35},{"s":"F","m":105.8,"v":103.75},{"s":"F","m":106.8,"v":104.4},{"s":"F","m":107.7,"v":104.5},{"s":"F","m":108.6,"v":104.45},{"s":"F","m":109.6,"v":104.25},{"s":"F","m":110.5,"v":104.4},{"s":"F","m":111.4,"v":105.1},{"s":"F","m":112.3,"v":106.0},{"s":"F","m":113.3,"v":106.1},{"s":"F","m":114.2,"v":106.85},{"s":"F","m":115.1,"v":107.3},{"s":"F","m":116.1,"v":107.45},{"s":"F","m":117.0,"v":107.8},{"s":"F","m":117.9,"v":108.3},{"s":"F","m":118.9,"v":108.95},{"s":"F","m":119.8,"v":109.25},{"s":"F","m":120.7,"v":109.2},{"s":"F","m":121.7,"v":109.2},{"s":"F","m":122.7,"v":109.85}
]},
"mark":{"type":"line","strokeWidth":2.2,"clip":true},
"encoding":{
"x":{"field":"m","type":"quantitative","scale":{"domain":[0,122.67],"nice":false,"zero":false},
"axis":{"title":null,"tickCount":123,"labelExpr":"datum.value % 12 == 0 ? '' + (2010 + datum.value / 12) : ''","labelOverlap":false,"labelFlush":false,"tickSize":-8,"tickColor":"#555","tickWidth":1,"domainColor":"#888","domainWidth":1.5,"labelFont":"DejaVu Sans","labelFontSize":16,"labelColor":"#333","labelPadding":25,"grid":false}},
"y":{"field":"v","type":"quantitative","scale":{"domain":[80,110],"nice":false,"zero":false},
"axis":{"title":null,"values":[80,85,90,95,100,105,110],"tickSize":-21,"tickColor":"#888","tickWidth":1.5,"domainColor":"#888","domainWidth":1.5,"labelFont":"DejaVu Sans","labelFontSize":16,"labelColor":"#333","labelPadding":37,"grid":false}},
"color":{"field":"s","type":"nominal","scale":{"domain":["A","B","C","D","E","F"],"range":["#7b1018","#e3262d","#f7941d","#8dc63f","#2d5a1b","#2e3e55"]},
"legend":{"orient":"none","legendX":612,"legendY":223,"title":null,"symbolType":"M-7,0H7","symbolSize":256,"symbolStrokeWidth":2.2,"symbolFillColor":"transparent","labelFont":"DejaVu Sans","labelFontSize":16,"labelColor":"#333","labelOffset":58,"labelLimit":320,"rowPadding":8.6,"labelExpr":"datum.label == 'A' ? 'Salute dell’unghione' : datum.label == 'B' ? 'Arti e Piedi' : datum.label == 'C' ? 'Mammella' : datum.label == 'D' ? 'Fertilità delle Figlie' : datum.label == 'E' ? 'Resistenza mastiti' : 'Latte, Proteine e Grasso'"}}
}
}
